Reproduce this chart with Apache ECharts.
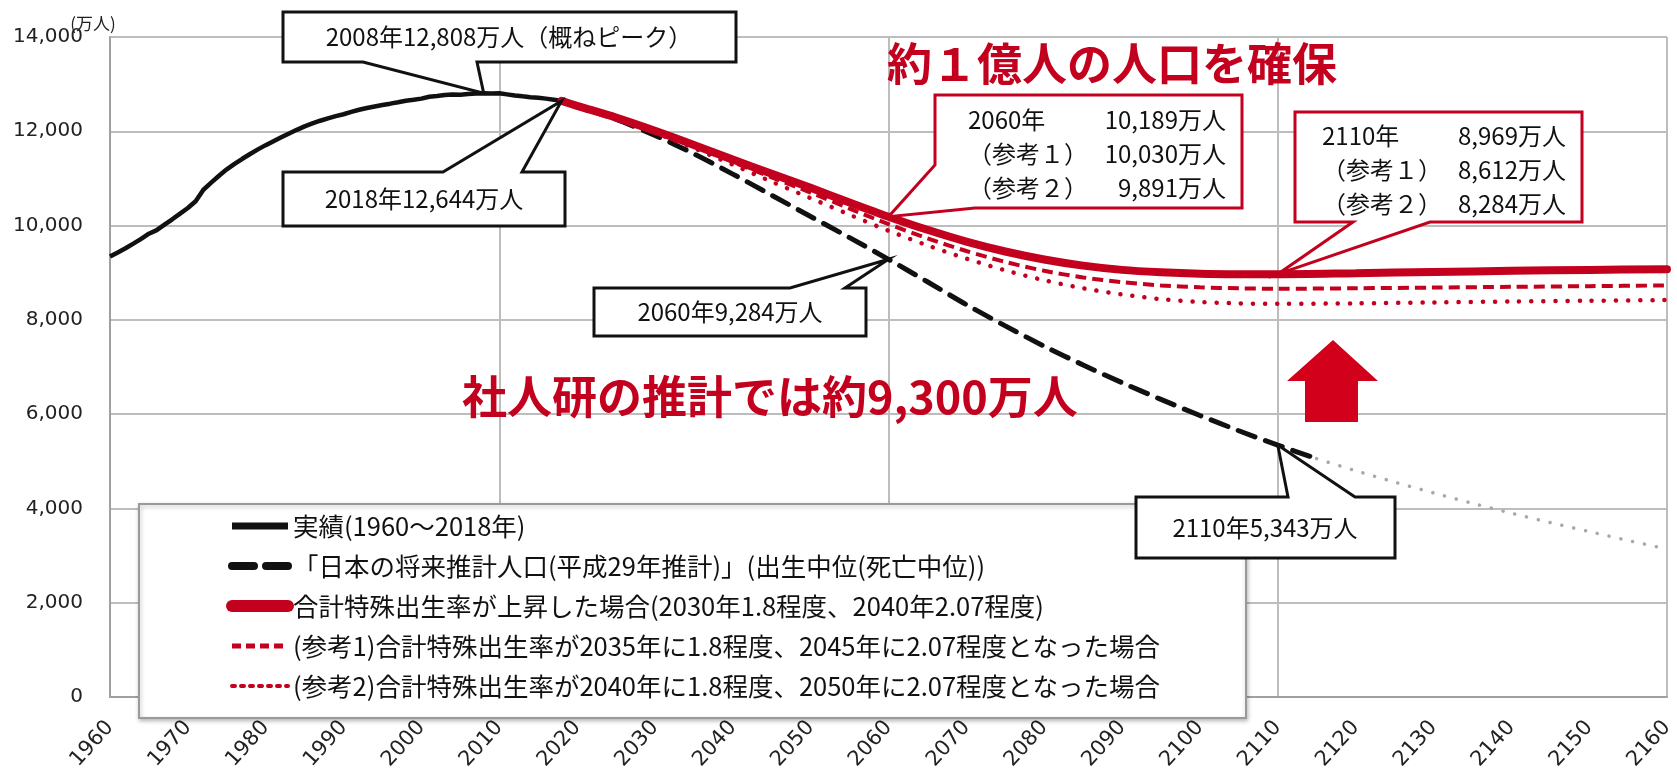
<!DOCTYPE html>
<html>
<head>
<meta charset="utf-8">
<script src="https://cdn.jsdelivr.net/npm/echarts@6/dist/echarts.min.js"></script>
<style>
html,body{margin:0;padding:0;background:#fff;}
#chart{width:1677px;height:770px;}
</style>
</head>
<body>
<div id="chart"></div>
<script>
// ---- data (万人) ----
const actualYears = [1960,1961,1962,1963,1964,1965,1966,1967,1968,1969,1970,1971,1972,1973,1974,1975,1976,1977,1978,1979,1980,1981,1982,1983,1984,1985,1986,1987,1988,1989,1990,1991,1992,1993,1994,1995,1996,1997,1998,1999,2000,2001,2002,2003,2004,2005,2006,2007,2008,2009,2010,2011,2012,2013,2014,2015,2016,2017,2018];
const actualValues = [9342,9429,9518,9616,9718,9828,9904,10020,10133,10254,10372,10515,10760,10910,11057,11194,11309,11417,11519,11616,11706,11790,11873,11954,12031,12105,12166,12224,12275,12321,12361,12410,12457,12494,12527,12557,12586,12616,12647,12667,12693,12732,12749,12769,12779,12777,12790,12803,12808,12803,12806,12783,12759,12741,12724,12709,12693,12671,12644];

const ipssYears = [2018,2020,2025,2030,2035,2040,2045,2050,2055,2060,2065,2070,2075,2080,2085,2090,2095,2100,2105,2110,2115];
const ipssValues = [12644,12532,12254,11913,11522,11092,10642,10192,9744,9284,8808,8323,7872,7441,7043,6668,6313,5972,5648,5343,5056];

const ipssExtYears = [2115,2120,2125,2130,2135,2140,2145,2150,2155,2160];
const ipssExtValues = [5056,4800,4560,4330,4110,3900,3700,3510,3320,3140];

const scenarioYears = [2018,2020,2025,2030,2035,2040,2045,2050,2055,2060,2065,2070,2075,2080,2085,2090,2095,2100,2105,2110,2120,2130,2140,2150,2160];
const scenarioValues = [12644,12540,12290,12010,11710,11400,11100,10800,10490,10189,9910,9660,9450,9280,9150,9060,9010,8980,8970,8969,8990,9015,9040,9060,9075];
const ref1Values = [12644,12535,12280,11990,11680,11350,11020,10700,10360,10030,9730,9460,9230,9040,8900,8800,8730,8690,8670,8660,8670,8685,8700,8715,8730];
const ref2Values = [12644,12535,12270,11970,11640,11290,10930,10580,10230,9891,9580,9300,9050,8840,8670,8540,8440,8380,8350,8340,8350,8370,8390,8405,8420];

const seriesNames = [
  '実績(1960～2018年)',
  '「日本の将来推計人口(平成29年推計)」(出生中位(死亡中位))',
  '合計特殊出生率が上昇した場合(2030年1.8程度、2040年2.07程度)',
  '(参考1)合計特殊出生率が2035年に1.8程度、2045年に2.07程度となった場合',
  '(参考2)合計特殊出生率が2040年に1.8程度、2050年に2.07程度となった場合'
];

// callout values
const peakPoint = [2008, 12808];
const lastActualPoint = [2018, 12644];
const ipss2060Point = [2060, 9284];
const ipss2110Point = [2110, 5343];
const scen2060 = [2060, 10189, 10030, 9891];
const scen2110 = [2110, 8969, 8612, 8284];

const fmt = v => v.toLocaleString('en-US');
const zip = (xs, ys) => xs.map((x, i) => [x, ys[i]]);

const RED = '#c3001e';
const CJK = '"Noto Sans CJK JP", sans-serif';
const noSym = {opacity: 0};

const chart = echarts.init(document.getElementById('chart'), null, {renderer: 'canvas'});

chart.setOption({
  animation: false,
  backgroundColor: '#fff',
  grid: {left: 110, right: 10, top: 37, bottom: 73, containLabel: false, outerBoundsMode: 'none'},
  xAxis: [{
    type: 'value', min: 1960, max: 2160, interval: 10,
    axisLine: {show: true, lineStyle: {color: '#a0a0a0', width: 2}},
    axisTick: {show: false},
    splitLine: {show: false},
    axisLabel: {rotate: 48, margin: 27, fontSize: 21, color: '#222', fontFamily: '"DejaVu Sans", sans-serif',
      formatter: v => String(v)}
  }, {
    type: 'value', min: 1960, max: 2160, interval: 50, position: 'bottom',
    axisLine: {show: false}, axisTick: {show: false}, axisLabel: {show: false},
    splitLine: {show: true, lineStyle: {color: '#bdbdbd', width: 2}}
  }],
  yAxis: {
    type: 'value', min: 0, max: 14000, interval: 2000,
    axisLine: {show: true, lineStyle: {color: '#a0a0a0', width: 2}},
    axisTick: {show: false},
    splitLine: {show: true, lineStyle: {color: '#bdbdbd', width: 2}},
    axisLabel: {margin: 27, fontSize: 20, color: '#222', fontFamily: '"DejaVu Sans", sans-serif'}
  },
  legend: {
    orient: 'vertical', left: 226, top: 513, padding: 0, itemGap: 14,
    itemWidth: 56, itemHeight: 14, z: 60,
    textStyle: {fontSize: 25.5, lineHeight: 26, color: '#111', fontFamily: CJK},
    data: [
      {name: seriesNames[0], lineStyle: {width: 7}, itemStyle: noSym},
      {name: seriesNames[1], lineStyle: {width: 8, type: [22, 12]}, itemStyle: noSym},
      {name: seriesNames[2], lineStyle: {width: 12}, itemStyle: noSym},
      {name: seriesNames[3], lineStyle: {width: 5, type: [9, 5]}, itemStyle: noSym},
      {name: seriesNames[4], lineStyle: {width: 4, type: [3, 6]}, itemStyle: noSym}
    ]
  },
  series: [
    {name: seriesNames[0], type: 'line', showSymbol: false, symbol: 'none', z: 3,
     data: zip(actualYears, actualValues),
     lineStyle: {color: '#111', width: 4.5}, itemStyle: {color: '#111'}},
    {name: seriesNames[1], type: 'line', showSymbol: false, symbol: 'none', smooth: 0.3, z: 3,
     data: zip(ipssYears, ipssValues),
     lineStyle: {color: '#111', width: 5, type: [18, 11], cap: 'round'}, itemStyle: {color: '#111'}},
    {name: 'ipss-ext', type: 'line', showSymbol: false, symbol: 'none', smooth: 0.3, z: 3,
     data: zip(ipssExtYears, ipssExtValues),
     lineStyle: {color: '#a8a8a8', width: 3.5, type: [0.1, 12], cap: 'round'}},
    {name: seriesNames[4], type: 'line', showSymbol: false, symbol: 'none', smooth: 0.3, z: 4,
     data: zip(scenarioYears, ref2Values),
     lineStyle: {color: RED, width: 4.5, type: [0.1, 12], cap: 'round'}, itemStyle: {color: RED}},
    {name: seriesNames[3], type: 'line', showSymbol: false, symbol: 'none', smooth: 0.3, z: 4,
     data: zip(scenarioYears, ref1Values),
     lineStyle: {color: RED, width: 4, type: [11, 6]}, itemStyle: {color: RED}},
    {name: seriesNames[2], type: 'line', showSymbol: false, symbol: 'none', smooth: 0.3, z: 5,
     data: zip(scenarioYears, scenarioValues),
     lineStyle: {color: RED, width: 8, cap: 'round'}, itemStyle: {color: RED}}
  ]
});

// ---- annotations ----
const px = p => chart.convertToPixel({xAxisIndex: 0, yAxisIndex: 0}, [p[0], p[1]]);

function calloutPoints(box, edge, base, tip) {
  const [x1, y1, x2, y2] = box;
  if (edge === 'bottom') return [[x1,y1],[x2,y1],[x2,y2],[base[1],y2],tip,[base[0],y2],[x1,y2]];
  if (edge === 'top') return [[x1,y1],[base[0],y1],tip,[base[1],y1],[x2,y1],[x2,y2],[x1,y2]];
  if (edge === 'bottomleft') return [[x1,y1],[x2,y1],[x2,y2],[base[1],y2],tip,[x1,base[0]]];
  return [[x1,y1],[x2,y1],[x2,y2],[x1,y2]];
}
function callout(box, edge, base, tip, stroke) {
  return {type: 'polygon', z: 100, shape: {points: calloutPoints(box, edge, base, tip)},
    style: {fill: '#fff', stroke: stroke, lineWidth: 3, lineJoin: 'miter'}};
}
function txt(x, y, text, opt) {
  return Object.assign({type: 'text', z: 101, x: x, y: y,
    style: Object.assign({text: text, fontSize: 24, fontFamily: CJK, fill: '#111', align: 'center', verticalAlign: 'middle'}, opt || {})});
}

const g = [];
// unit label
g.push(txt(93, 24, '(万人)', {fontSize: 17, fill: '#222'}));
// legend frame
g.push({type: 'rect', z: 50, shape: {x: 139, y: 504, width: 1107, height: 214},
  style: {fill: '#fff', stroke: '#9a9a9a', lineWidth: 2, shadowBlur: 4, shadowColor: 'rgba(0,0,0,0.25)', shadowOffsetX: 1, shadowOffsetY: 2}});

// 2008 peak
g.push(callout([283, 12, 736, 62], 'bottom', [363, 477], px(peakPoint), '#111'));
g.push(txt(509, 37, peakPoint[0] + '年' + fmt(peakPoint[1]) + '万人（概ねピーク）'));
// 2018
g.push(callout([283, 172, 565, 226], 'top', [443, 522], px(lastActualPoint), '#111'));
g.push(txt(424, 199, lastActualPoint[0] + '年' + fmt(lastActualPoint[1]) + '万人'));
// 2060 IPSS
g.push(callout([594, 288, 866, 336], 'top', [790, 845], px(ipss2060Point), '#111'));
g.push(txt(730, 312, ipss2060Point[0] + '年' + fmt(ipss2060Point[1]) + '万人'));
// 2110 IPSS
g.push(callout([1136, 497, 1395, 558], 'top', [1288, 1355], px(ipss2110Point), '#111'));
g.push(txt(1265, 528, ipss2110Point[0] + '年' + fmt(ipss2110Point[1]) + '万人'));
// 2060 scenario
g.push(callout([935, 95, 1242, 208], 'bottomleft', [165, 975], px([scen2060[0], scen2060[1]]), RED));
const l1 = ['年', '（参考１）', '（参考２）'];
[0, 1, 2].forEach(i => {
  const y = 120 + i * 34;
  g.push(txt(968, y, i === 0 ? scen2060[0] + l1[0] : l1[i], {align: 'left'}));
  g.push(txt(1226, y, fmt(scen2060[i + 1]) + '万人', {align: 'right'}));
});
// 2110 scenario
g.push(callout([1295, 112, 1582, 222], 'bottom', [1353, 1430], px([scen2110[0], scen2110[1]]), RED));
[0, 1, 2].forEach(i => {
  const y = 136 + i * 34;
  g.push(txt(1322, y, i === 0 ? scen2110[0] + l1[0] : l1[i], {align: 'left'}));
  g.push(txt(1566, y, fmt(scen2110[i + 1]) + '万人', {align: 'right'}));
});
// big red texts
g.push(txt(887, 64, '約１億人の人口を確保', {align: 'left', fontSize: 45, fontWeight: 'bold', fill: RED}));
g.push(txt(462, 397, '社人研の推計では約9,300万人', {align: 'left', fontSize: 45, fontWeight: 'bold', fill: RED}));
// arrow
g.push({type: 'polygon', z: 100, shape: {points: [[1333,340],[1378,381],[1358,381],[1358,422],[1305,422],[1305,381],[1287,381]]},
  style: {fill: '#d2001a'}});

chart.setOption({graphic: g});
</script>
</body>
</html>
